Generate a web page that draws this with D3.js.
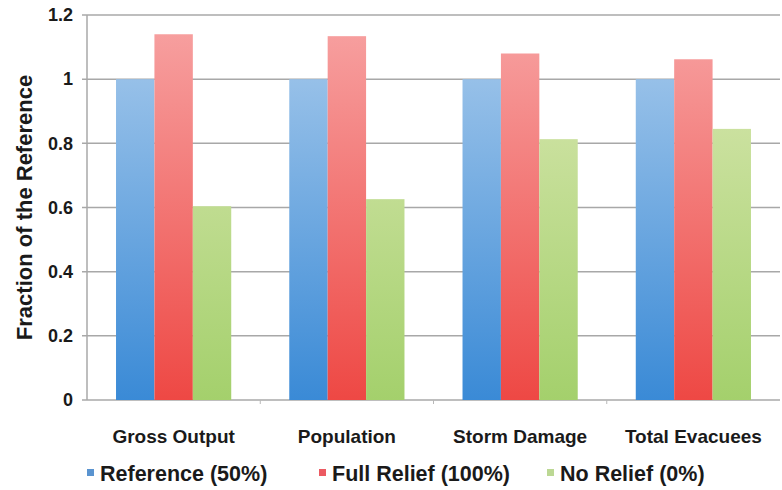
<!DOCTYPE html>
<html><head><meta charset="utf-8">
<script src="https://cdn.jsdelivr.net/npm/d3@7"></script>
<style>body{margin:0;background:#fff}svg{display:block}text{font-family:"Liberation Sans",Arial,sans-serif;font-weight:bold;fill:#1a1a1a}</style>
</head><body><svg id="c" width="782" height="490"></svg>
<script>
const categories = ["Gross Output", "Population", "Storm Damage", "Total Evacuees"];
const seriesNames = ["Reference (50%)", "Full Relief (100%)", "No Relief (0%)"];
const referenceVals = [1, 1, 1, 1];
const fullReliefVals = [1.14, 1.134, 1.08, 1.062];
const noReliefVals = [0.604, 0.626, 0.813, 0.845];
const yTicks = [0, 0.2, 0.4, 0.6, 0.8, 1, 1.2];
const seriesVals = [referenceVals, fullReliefVals, noReliefVals];
const topColors = ["#a9cbec", "#f7a3a3", "#dbe8b4"];
const botColors = ["#3a8ad6", "#ee4844", "#a4d06c"];
const legendColors = ["#5a94d0", "#ec5a62", "#bcd894"];

const svg = d3.select("#c");
const m = {l: 87, r: 2, t: 15, b: 90};
const W = 782, H = 490;
const x = d3.scaleBand().domain(categories).range([m.l, W - m.r]).paddingInner(0.335).paddingOuter(0.1675);
const xs = d3.scaleBand().domain(d3.range(3)).range([0, x.bandwidth()]);
const y = d3.scaleLinear().domain([0, 1.2]).range([H - m.b, m.t]);

const defs = svg.append("defs");
seriesNames.forEach((s, i) => {
  const g = defs.append("linearGradient").attr("id", "g" + i)
    .attr("gradientUnits", "userSpaceOnUse").attr("x1", 0).attr("x2", 0)
    .attr("y1", y(1.2)).attr("y2", y(0));
  g.append("stop").attr("offset", 0).attr("stop-color", topColors[i]);
  g.append("stop").attr("offset", 1).attr("stop-color", botColors[i]);
});

// gridlines
svg.append("g").selectAll("line").data(yTicks).join("line")
  .attr("x1", m.l - 5).attr("x2", W - m.r)
  .attr("y1", d => y(d)).attr("y2", d => y(d))
  .attr("stroke", "#a8a8a8").attr("stroke-width", 1.5);
// y axis line
svg.append("line").attr("x1", m.l).attr("x2", m.l).attr("y1", y(0)).attr("y2", y(1.2))
  .attr("stroke", "#a8a8a8").attr("stroke-width", 1.5);
// x category separator ticks
svg.append("g").selectAll("line").data(categories.slice(1)).join("line")
  .attr("x1", d => x(d) - x.step() * x.paddingInner() / 2).attr("x2", d => x(d) - x.step() * x.paddingInner() / 2)
  .attr("y1", y(0)).attr("y2", y(0) + 4)
  .attr("stroke", "#b8b8b8").attr("stroke-width", 1);

// bars
seriesVals.forEach((vals, i) => {
  svg.append("g").selectAll("rect").data(vals).join("rect")
    .attr("x", (d, j) => x(categories[j]) + xs(i))
    .attr("width", xs.bandwidth())
    .attr("y", d => y(d))
    .attr("height", d => y(0) - y(d))
    .attr("fill", "url(#g" + i + ")");
});

// y tick labels
svg.append("g").selectAll("text").data(yTicks).join("text")
  .attr("x", 73).attr("y", d => y(d)).attr("dy", "0.35em")
  .attr("text-anchor", "end").attr("font-size", 18)
  .text(d => d3.format("~g")(d));

// category labels
svg.append("g").selectAll("text").data(categories).join("text")
  .attr("x", d => x(d) + x.bandwidth() / 2).attr("y", 443)
  .attr("text-anchor", "middle").attr("font-size", 19).text(d => d);

// axis title
svg.append("text").attr("transform", `translate(32,${(y(0) + y(1.2)) / 2}) rotate(-90)`)
  .attr("text-anchor", "middle").attr("font-size", 22).text("Fraction of the Reference");

// legend
const legX = [87, 319, 547];
const lg = svg.append("g");
seriesNames.forEach((s, i) => {
  lg.append("rect").attr("x", legX[i]).attr("y", 469).attr("width", 7).attr("height", 7).attr("fill", legendColors[i]);
  lg.append("text").attr("x", legX[i] + 13).attr("y", 481).attr("font-size", 21.5).text(s);
});
</script></body></html>
